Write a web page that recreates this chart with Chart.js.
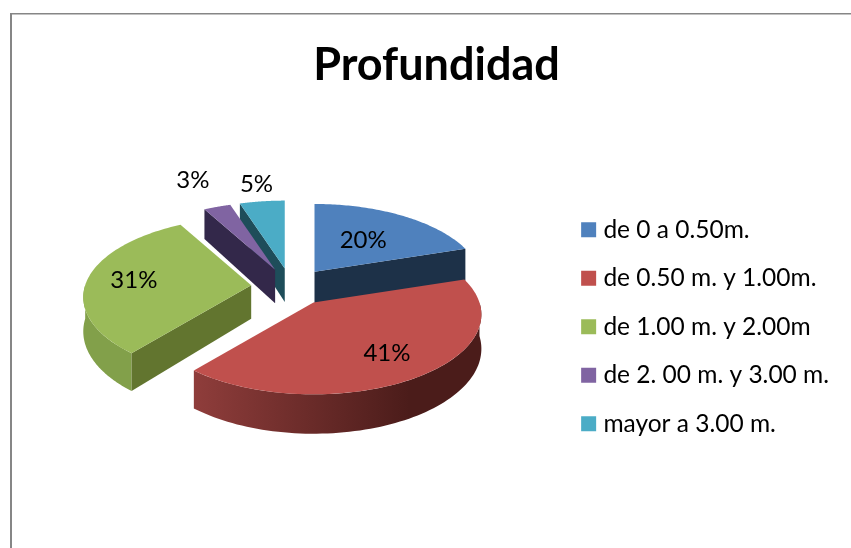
<!DOCTYPE html>
<html><head><meta charset="utf-8">
<script src="https://cdn.jsdelivr.net/npm/chart.js@4"></script>
<style>html,body{margin:0;padding:0;background:#fff}canvas{display:block}</style>
</head><body><canvas id="c" width="851" height="548"></canvas>
<script>
const chartTitle = 'Profundidad';
const categories = ['de 0 a 0.50m.','de 0.50 m. y 1.00m.','de 1.00 m. y 2.00m','de 2. 00 m. y 3.00 m.','mayor a 3.00 m.'];
const shares = [20,41,31,3,5];
const pctLabels = ['20%','41%','31%','3%','5%'];
const topColors = ['#4f81bd','#c0504d','#9bbb59','#8064a2','#4bacc6'];
const wallColors = ['#1d3148','#4b1c1a','#62752f','#33284a','#1e4d5a'];
const wallLight = ['#1d3148','#8f3d3b','#8ba94f','#33284a','#1e4d5a'];
const paintOrder = [4,3,0,2,1];
const labelReach = [.56,.69,.72,1.42,1.25];
const explodePx = 40;
const view = {cx:291, cy:287, rx:166, ry:78, persp:.15, depth:33.5, tilt:.47};
const FONT = 'Lato, Carlito, Calibri, sans-serif';

function angleOf(a){ return a + Math.PI/2; }
function point(ap,t,f,z){
  const s=Math.sin(t), c=-Math.cos(t), w=1-view.persp*c;
  return {x:ap.x+view.rx*f*s/w, y:ap.y+view.ry*f*c/w+(z||0)/w};
}
function quad(ctx,pts,fill){
  ctx.beginPath(); pts.forEach((p,i)=>i?ctx.lineTo(p.x,p.y):ctx.moveTo(p.x,p.y));
  ctx.closePath(); ctx.fillStyle=fill; ctx.fill();
}
const frameAndPie = {
  id:'frameAndPie',
  beforeDraw(chart){
    const ctx=chart.ctx;
    ctx.save();
    ctx.fillStyle='#868686';
    ctx.fillRect(10,13,841,1.5);
    ctx.fillRect(10,13,2,535);
    ctx.restore();
  },
  beforeDatasetDraw(chart,args){
    const ctx=chart.ctx, arcs=args.meta.data, D=view.depth;
    ctx.save();
    const geo=arcs.map(a=>{
      const t0=angleOf(a.startAngle), t1=angleOf(a.endAngle), m=(t0+t1)/2, e=a.options.offset;
      return {t0,t1,m,ap:{x:view.cx+e*Math.sin(m), y:view.cy-e*view.tilt*Math.cos(m)}};
    });
    paintOrder.forEach(i=>{
      const g=geo[i], ap=g.ap;
      const top=[], a0=point(ap,g.t0,1), a1=point(ap,g.t1,1);
      const b0=point(ap,g.t0,1,D), b1=point(ap,g.t1,1,D);
      // outer wall: only the front half of the circle faces the viewer
      const v0=Math.max(g.t0,Math.PI/2), v1=Math.min(g.t1,Math.PI*1.5);
      if(v1>v0){
        const up=[],dn=[];
        for(let k=0;k<=80;k++){
          const t=v0+(v1-v0)*k/80;
          up.push(point(ap,t,1)); dn.unshift(point(ap,t,1,D));
        }
        const xs=up.map(p=>p.x), gr=ctx.createLinearGradient(Math.min(...xs),0,Math.max(...xs),0);
        gr.addColorStop(0,wallLight[i]); gr.addColorStop(i===1?.75:1,wallColors[i]);
        quad(ctx,up.concat(dn),i===2?'#82a04a':gr);
      }
      // flat cut walls
      if(a0.x<ap.x) quad(ctx,[ap,a0,b0,{x:ap.x,y:ap.y+D}],wallColors[i]);
      if(a1.x>ap.x) quad(ctx,[ap,a1,b1,{x:ap.x,y:ap.y+D}],wallColors[i]);
      // top
      top.push(ap);
      for(let k=0;k<=80;k++) top.push(point(ap,g.t0+(g.t1-g.t0)*k/80,1));
      quad(ctx,top,topColors[i]);
    });
    ctx.fillStyle='#000'; ctx.textAlign='center'; ctx.textBaseline='middle';
    ctx.font='24px '+FONT;
    geo.forEach((g,i)=>{
      const p=point(g.ap,g.m,labelReach[i]);
      ctx.fillText(pctLabels[i],p.x,p.y);
    });
    ctx.restore();
    return false;
  }
};
new Chart(document.getElementById('c'),{
  type:'pie',
  data:{labels:categories,datasets:[{data:shares,backgroundColor:topColors,offset:explodePx,borderWidth:0}]},
  plugins:[frameAndPie],
  options:{
    responsive:false,animation:false,
    layout:{padding:{left:34,right:12,top:38,bottom:88}},
    plugins:{
      tooltip:{enabled:false},
      title:{display:true,text:chartTitle,color:'#000',font:{family:FONT,size:45,weight:'bold'},padding:{top:0,bottom:30}},
      legend:{position:'right',align:'end',
        labels:{color:'#000',font:{family:FONT,size:24.5},boxWidth:5,boxHeight:5,padding:24,
          generateLabels(chart){
            return categories.map((t,i)=>({text:t,fillStyle:topColors[i],strokeStyle:topColors[i],lineWidth:10,hidden:false,index:i,fontColor:'#000'}));
          }}}
    }
  }
});
</script></body></html>
